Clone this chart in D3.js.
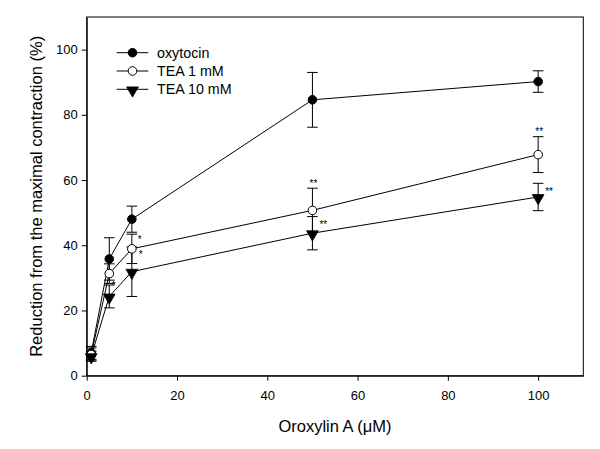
<!DOCTYPE html>
<html>
<head>
<meta charset="utf-8">
<script src="https://cdn.jsdelivr.net/npm/d3@7"></script>
<style>
  html, body { margin: 0; padding: 0; background: #fff; }
  svg { display: block; font-family: Arial, "Liberation Sans", sans-serif; }
  text { fill: #000; }
</style>
</head>
<body>
<svg id="chart" width="600" height="449"></svg>
<script>
// ---- data ----
const doses = [1, 5, 10, 50, 100];
const oxytocin = [7.0, 35.8, 48.0, 84.6, 90.2];
const oxytocinErr = [2.0, 6.5, 4.0, 8.4, 3.3];
const tea1 = [6.5, 31.3, 38.9, 50.7, 67.8];
const tea1Err = [2.0, 3.0, 4.5, 6.8, 5.5];
const tea10 = [6.0, 24.3, 31.9, 43.7, 54.8];
const tea10Err = [1.5, 3.5, 7.6, 5.1, 4.2];
const tea1Stars = ["", "", "*", "**", "**"];
const tea10Stars = ["", "*", "*", "**", "**"];
const seriesNames = ["oxytocin", "TEA 1 mM", "TEA 10 mM"];
const xTicks = [0, 20, 40, 60, 80, 100];
const yTicks = [0, 20, 40, 60, 80, 100];
const xTitle = "Oroxylin A (\u03BCM)";
const yTitle = "Reduction from the maximal contraction (%)";

// ---- layout ----
const svg = d3.select("#chart");
const L = 86.7, R = 583.3, T = 17, B = 375.7;
const x = d3.scaleLinear().domain([0, 110]).range([L, R]);
const y = d3.scaleLinear().domain([0, 110]).range([B, T]);

// frame
svg.append("rect").attr("x", L).attr("y", T).attr("width", R - L).attr("height", B - T)
  .attr("fill", "none").attr("stroke", "#000").attr("stroke-width", 1);

// axes
const xAxis = svg.append("g").attr("transform", `translate(0,${B})`)
  .call(d3.axisBottom(x).tickValues(xTicks).tickSize(5).tickPadding(10).tickSizeOuter(0));
const yAxis = svg.append("g").attr("transform", `translate(${L},0)`)
  .call(d3.axisLeft(y).tickValues(yTicks).tickSize(5).tickPadding(4).tickSizeOuter(0));
[xAxis, yAxis].forEach(g => {
  g.select(".domain").attr("stroke", "#000");
  g.selectAll(".tick line").attr("stroke", "#000");
  g.selectAll(".tick text").attr("fill", "#000").attr("font-size", 13)
    .attr("font-family", "Arial, 'Liberation Sans', sans-serif");
});

// titles
svg.append("text").attr("x", (L + R) / 2).attr("y", 432).attr("text-anchor", "middle")
  .attr("font-size", 16.5).attr("fill", "#000").text(xTitle);
svg.append("text").attr("transform", `translate(41.5,${(T + B) / 2}) rotate(-90)`)
  .attr("text-anchor", "middle").attr("font-size", 16.5).attr("fill", "#000").text(yTitle);

// markers
const tri = d3.symbol().type(d3.symbolTriangle).size(60);
function drawMarker(g, kind, cx, cy) {
  if (kind === 0) {
    g.append("circle").attr("cx", cx).attr("cy", cy).attr("r", 4.3)
      .attr("fill", "#000").attr("stroke", "#000");
  } else if (kind === 1) {
    g.append("circle").attr("cx", cx).attr("cy", cy).attr("r", 4.3)
      .attr("fill", "#fff").attr("stroke", "#000").attr("stroke-width", 1);
  } else {
    g.append("path").attr("d", tri).attr("transform", `translate(${cx},${cy + 1}) rotate(180)`)
      .attr("fill", "#000").attr("stroke", "#000").attr("stroke-width", 0.8);
  }
}

const series = [
  { vals: oxytocin, err: oxytocinErr, stars: null },
  { vals: tea1, err: tea1Err, stars: tea1Stars },
  { vals: tea10, err: tea10Err, stars: tea10Stars }
];

const line = d3.line().x(d => x(d[0])).y(d => y(d[1]));
const plot = svg.append("g");
const cap = 5.3;

// lines first
series.forEach(s => {
  plot.append("path").datum(doses.map((d, i) => [d, s.vals[i]]))
    .attr("d", line).attr("fill", "none").attr("stroke", "#000").attr("stroke-width", 1);
});
// error bars
series.forEach(s => {
  doses.forEach((d, i) => {
    const cx = x(d), y0 = y(s.vals[i] - s.err[i]), y1 = y(s.vals[i] + s.err[i]);
    plot.append("line").attr("x1", cx).attr("x2", cx).attr("y1", y0).attr("y2", y1)
      .attr("stroke", "#000").attr("stroke-width", 1);
    [y0, y1].forEach(yy => plot.append("line").attr("x1", cx - cap).attr("x2", cx + cap)
      .attr("y1", yy).attr("y2", yy).attr("stroke", "#000").attr("stroke-width", 1));
  });
});
// markers
series.forEach((s, k) => {
  doses.forEach((d, i) => drawMarker(plot, k, x(d), y(s.vals[i])));
});
// significance stars
series.forEach((s, k) => {
  if (!s.stars) return;
  doses.forEach((d, i) => {
    const t = s.stars[i];
    if (!t) return;
    const topY = y(s.vals[i] + s.err[i]);
    let sx, sy, anchor;
    if (k === 1 && i >= 3) { sx = x(d) + 1; sy = topY - 7; anchor = "middle"; }
    else if (k === 1) { sx = x(d) + 6; sy = topY + 3; anchor = "start"; }
    else { sx = x(d) + (i === 1 ? 2.5 : 7); sy = topY + (i === 1 ? -2 : 6); anchor = "start"; }
    plot.append("text").attr("x", sx).attr("y", sy + 5.5).attr("text-anchor", anchor)
      .attr("font-size", 10).attr("fill", "#000").text(t);
  });
});

// legend
const legRows = [52.7, 71, 89.3];
const leg = svg.append("g");
seriesNames.forEach((name, k) => {
  const ly = legRows[k];
  leg.append("line").attr("x1", 116.7).attr("x2", 148.3).attr("y1", ly).attr("y2", ly)
    .attr("stroke", "#000").attr("stroke-width", 1);
  drawMarker(leg, k, 132.5, ly);
  leg.append("text").attr("x", 157).attr("y", ly + 5).attr("font-size", 14.3)
    .attr("fill", "#000").text(name);
});
</script>
</body>
</html>
